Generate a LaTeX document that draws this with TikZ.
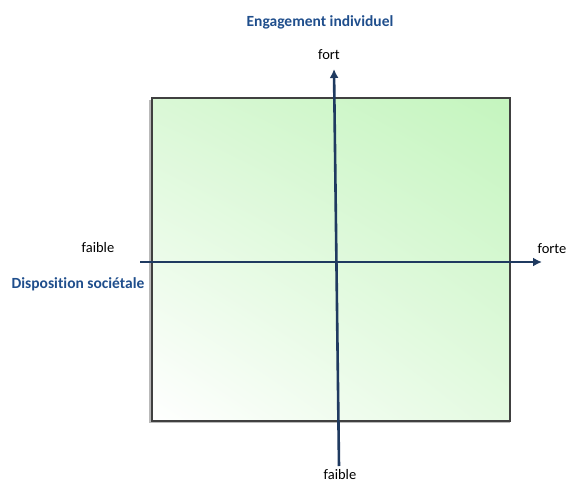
\documentclass[tikz,border=0pt]{standalone}
\usepackage{fontspec}
\setmainfont{Carlito}[Ligatures=NoCommon]
\usetikzlibrary{arrows.meta,shadings}
\definecolor{axisnavy}{HTML}{1F3A60}
\definecolor{titleblue}{HTML}{1F4E8C}
\definecolor{greenTR}{HTML}{C4F5BE}
\definecolor{greenTL}{HTML}{DAF8D6}
\definecolor{greenBR}{HTML}{E4FAE1}
\tikzset{
  axisline/.style={draw=axisnavy, line width=2.6pt, -{Latex[length=9pt,width=9pt]}},
  axislabel/.style={font=\fontsize{14.5}{16}\selectfont, text=black, inner sep=0pt},
  axistitle/.style={font=\fontsize{15.5}{17}\selectfont\bfseries, text=titleblue, inner sep=0pt},
}
\begin{document}
\begin{tikzpicture}[x=1pt,y=-1pt]
\useasboundingbox (0,0) rectangle (568,483);
% shadow
\fill[gray!55] (149,100) rectangle (510,423);
\shade[lower left=white, upper right=greenTR, upper left=greenTL, lower right=greenBR]
  (152,98) rectangle (510,421);
\draw[draw=black!75, line width=1.3pt] (152,98) rectangle (510,421);
\coordinate (hstart) at (140,262);
\coordinate (hend) at (542,262);
\coordinate (vstart) at (339,466);
\coordinate (vend) at (334,69);
\draw[axisline] (hstart) -- (hend);
\draw[axisline] (vstart) -- (vend);
\node[axistitle] (ttop) at (320,22) {Engagement individuel};
\node[axislabel] (fort) at (329,55) {fort};
\node[axislabel] (faibleL) at (98,248) {faible};
\node[axistitle] (tleft) at (78,284) {Disposition sociétale};
\node[axislabel] (forte) at (552,249) {forte};
\node[axislabel] (faibleB) at (340,475) {faible};
\end{tikzpicture}
\end{document}
